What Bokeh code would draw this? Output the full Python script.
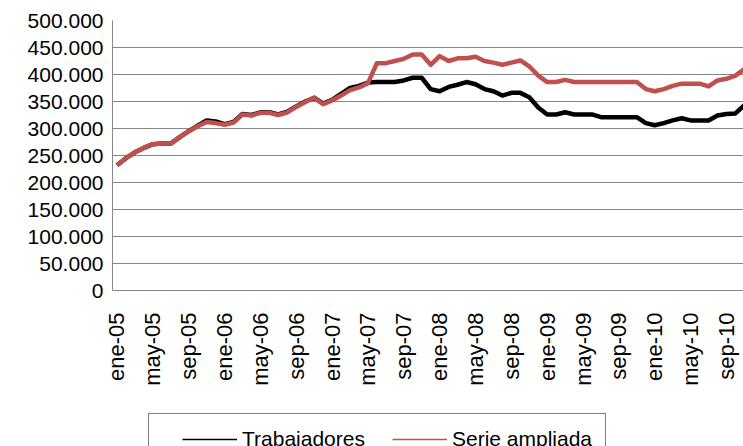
import math
from bokeh.plotting import figure
from bokeh.layouts import column
from bokeh.models import FixedTicker, Legend, LegendItem, ColumnDataSource, Range1d
from bokeh.embed import file_html
from bokeh.resources import INLINE

# ---- data (thousands of people, monthly ene-05 .. nov-10) ----
month_abbr = ["ene", "feb", "mar", "abr", "may", "jun", "jul", "ago", "sep", "oct", "nov", "dic"]
years = ["05", "06", "07", "08", "09", "10"]

trabajadores = [232, 245, 256, 264, 271, 272, 272, 284, 295, 305,
                315, 313, 308, 312, 327, 325, 330, 330, 326, 331,
                341, 350, 357, 346, 353, 364, 375, 379, 385, 386,
                386, 386, 389, 394, 394, 373, 369, 377, 381, 386,
                382, 373, 369, 361, 366, 366, 358, 339, 326, 326,
                330, 326, 326, 326, 321, 321, 321, 321, 321, 310,
                306, 310, 315, 319, 315, 315, 315, 324, 327, 328, 343]

serie_ampliada = [232, 245, 256, 264, 271, 272, 272, 284, 295, 304,
                  312, 310, 307, 311, 326, 324, 329, 329, 325, 330,
                  340, 349, 357, 345, 352, 361, 371, 376, 384, 421,
                  421, 425, 429, 437, 437, 418, 434, 425, 430, 430,
                  433, 425, 422, 418, 422, 426, 415, 398, 386, 386,
                  390, 386, 386, 386, 386, 386, 386, 386, 386, 373,
                  369, 373, 379, 383, 383, 383, 378, 389, 392, 398, 410]

series_names = ["Trabajadores", "Serie ampliada"]
series_colors = ["#000000", "#C0504D"]

y_ticks = [0, 50000, 100000, 150000, 200000, 250000, 300000, 350000, 400000, 450000, 500000]
y_tick_labels = ["0", "50.000", "100.000", "150.000", "200.000", "250.000",
                 "300.000", "350.000", "400.000", "450.000", "500.000"]

months = [m + "-" + y for y in years for m in month_abbr][:len(trabajadores)]
x = list(range(len(trabajadores)))
x_ticks = x[::4]

src = ColumnDataSource(dict(
    x=x,
    trab=[v * 1000 for v in trabajadores],
    serie=[v * 1000 for v in serie_ampliada],
))

FONT = "Liberation Sans"
GRID = "#878787"

p = figure(width=743, height=404,
           x_range=Range1d(-0.5, 69.9), y_range=Range1d(0, 500000),
           output_backend="svg", toolbar_location=None,
           min_border_left=112, min_border_right=0,
           min_border_top=20, min_border_bottom=114)
p.outline_line_color = None
p.background_fill_color = "white"
p.border_fill_color = "white"

p.line("x", "trab", source=src, line_color=series_colors[0], line_width=4.5, line_join="round")
p.line("x", "serie", source=src, line_color=series_colors[1], line_width=4.5, line_join="round")

# y axis
ya = p.yaxis[0]
ya.ticker = FixedTicker(ticks=y_ticks)
ya.major_label_overrides = {t: l for t, l in zip(y_ticks, y_tick_labels)}
ya.major_tick_line_color = None
ya.minor_tick_line_color = None
ya.major_tick_out = 0
ya.major_tick_in = 0
ya.major_label_standoff = 9
ya.axis_line_color = GRID
ya.major_label_text_font = FONT
ya.major_label_text_font_size = "21px"
ya.major_label_text_color = "#000000"

# x axis
xa = p.xaxis[0]
xa.ticker = FixedTicker(ticks=x_ticks)
xa.major_label_overrides = {i: months[i] for i in x_ticks}
xa.major_label_orientation = math.pi / 2
xa.major_tick_line_color = None
xa.minor_tick_line_color = None
xa.major_tick_out = 0
xa.major_tick_in = 0
xa.major_label_standoff = 22
xa.axis_line_color = GRID
xa.major_label_text_font = FONT
xa.major_label_text_font_size = "22px"
xa.major_label_text_color = "#000000"

p.xgrid.grid_line_color = None
p.ygrid.grid_line_color = GRID
p.ygrid.grid_line_width = 1
p.ygrid.ticker = FixedTicker(ticks=y_ticks)

# ---- legend strip below the chart ----
pl = figure(width=743, height=42, x_range=Range1d(0, 1), y_range=Range1d(0, 1),
            output_backend="svg", toolbar_location=None,
            x_axis_type=None, y_axis_type=None,
            min_border_left=0, min_border_right=0, min_border_top=0, min_border_bottom=0)
pl.outline_line_color = None
pl.xgrid.grid_line_color = None
pl.ygrid.grid_line_color = None
pl.background_fill_color = "white"
pl.border_fill_color = "white"

# legend-only renderers (points lie outside the strip's ranges, so only the legend shows them)
dummy = ColumnDataSource(dict(x=[-10, -9], y=[-10, -10]))
lb = pl.line("x", "y", source=dummy, line_color=series_colors[0], line_width=1.5)
lr = pl.line("x", "y", source=dummy, line_color=series_colors[1], line_width=1.5)

legend = Legend(items=[LegendItem(label=series_names[0], renderers=[lb]),
                       LegendItem(label=series_names[1], renderers=[lr])],
                orientation="horizontal",
                location=(36, -19),
                title=" ", title_location="left",
                title_text_font_size="8px", title_standoff=11,
                padding=13, margin=0, spacing=27,
                glyph_width=55, label_standoff=5,
                label_text_font=FONT, label_text_font_size="21px",
                label_text_color="#000000",
                border_line_color="#000000", border_line_width=1,
                background_fill_color="white", background_fill_alpha=1)
pl.add_layout(legend, "center")

layout = column(p, pl, spacing=0)
open("out.html", "w").write(file_html(layout, INLINE))
